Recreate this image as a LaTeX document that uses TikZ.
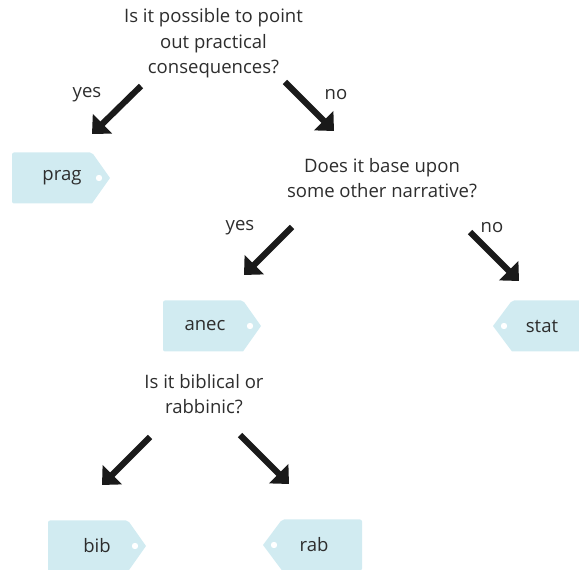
\documentclass[tikz,border=0pt]{standalone}
\usepackage{fontspec}
\setmainfont{Open Sans}
\usetikzlibrary{arrows.meta}
\definecolor{tagfill}{RGB}{209,235,241}
\definecolor{txt}{RGB}{45,45,45}
\definecolor{arr}{RGB}{26,26,26}
\tikzset{
  q/.style={align=center, text=txt, font=\fontsize{13.9}{19.1}\selectfont, inner sep=0pt},
  lbl/.style={text=txt, font=\fontsize{13.9}{19.1}\selectfont, inner sep=0pt},
  bigarrow/.style={draw=arr, line width=4.6pt, -{Triangle[length=11pt,width=20pt]}},
  tagbody/.style={fill=tagfill, rounded corners=1.5pt},
  hole/.style={fill=white, draw=none},
}
% right-pointing tag: #1 name, #2 left x, #3 centre y, #4 text, #5 text centre x
\newcommand{\tagright}[5]{%
  \path[tagbody] (#2,#3-25.5) -- (#2+80,#3-25.5) [sharp corners] -- (#2+98,#3) -- (#2+80,#3+25.5) [rounded corners=1.5pt] -- (#2,#3+25.5) -- cycle;
  \fill[hole] (#2+87,#3) circle (3.2);
  \node[lbl] (#1) at (#5,#3) {#4};
}
% left-pointing tag: #1 name, #2 tip x, #3 centre y, #4 text, #5 text centre x, #6 right x
\newcommand{\tagleft}[6]{%
  \path[tagbody] (#6,#3-25.5) -- (#2+19,#3-25.5) [sharp corners] -- (#2,#3) -- (#2+19,#3+25.5) [rounded corners=1.5pt] -- (#6,#3+25.5) -- cycle;
  \fill[hole] (#2+11,#3) circle (3.2);
  \node[lbl] (#1) at (#5,#3) {#4};
}
\begin{document}
\begin{tikzpicture}[x=0.75pt,y=-0.75pt]
\useasboundingbox (0,0) rectangle (579,570);
\clip (0,0) rectangle (579,570);

\node[q] (q1) at (213.5,43.5) {Is it possible to point\\out practical\\consequences?};
\node[q] (q2) at (382,178) {Does it base upon\\some other narrative?};
\node[q] (q3) at (204,394) {Is it biblical or\\rabbinic?};

\node[lbl] (y1) at (87,95) {yes};
\node[lbl] (n1) at (336,95) {no};
\node[lbl] (y2) at (240,228) {yes};
\node[lbl] (n2) at (492,228) {no};

\tagright{prag}{12}{178}{prag}{62}
\tagright{anec}{163}{326}{anec}{205}
\tagright{bib}{48}{546}{bib}{97}
\tagleft{stat}{493}{326}{stat}{542}{600}
\tagleft{rab}{263}{545}{rab}{314}{362}

\coordinate (a1s) at (141,86);
\coordinate (a1e) at (92,134);
\coordinate (a2s) at (285,82);
\coordinate (a2e) at (334,131);
\coordinate (a3s) at (292,227);
\coordinate (a3e) at (244,275);
\coordinate (a4s) at (470,232);
\coordinate (a4e) at (519,281);
\coordinate (a5s) at (150,437);
\coordinate (a5e) at (102,485);
\coordinate (a6s) at (240,435);
\coordinate (a6e) at (289,484);

\draw[bigarrow] (a1s) -- (a1e);
\draw[bigarrow] (a2s) -- (a2e);
\draw[bigarrow] (a3s) -- (a3e);
\draw[bigarrow] (a4s) -- (a4e);
\draw[bigarrow] (a5s) -- (a5e);
\draw[bigarrow] (a6s) -- (a6e);
\end{tikzpicture}
\end{document}
